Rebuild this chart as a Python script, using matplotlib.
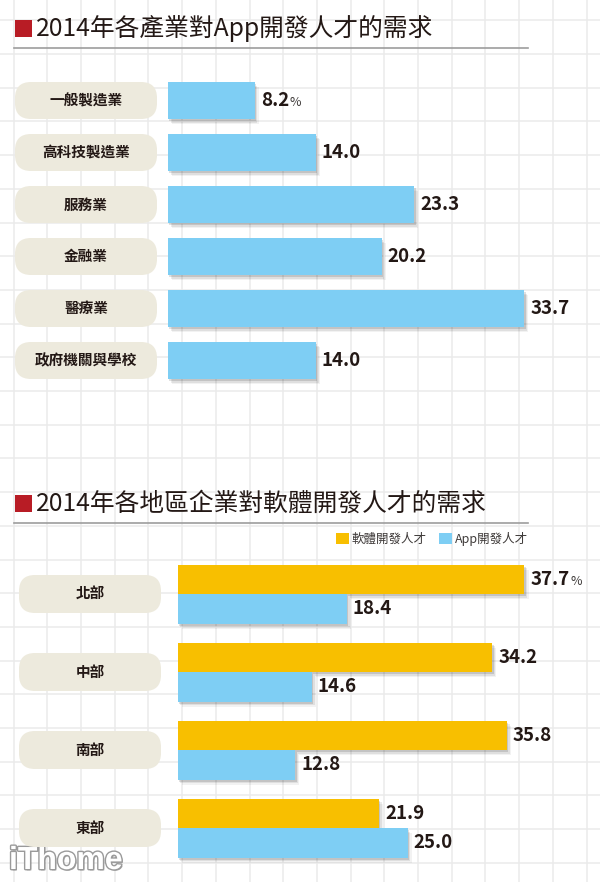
import numpy as np
import matplotlib
matplotlib.use('Agg')
import matplotlib.pyplot as plt
import matplotlib.patheffects as pe
import matplotlib.transforms as mtransforms
from matplotlib.patches import FancyBboxPatch, Rectangle, Patch

plt.rcParams['font.family'] = ['Noto Sans CJK TC', 'DejaVu Sans']

# data
industries = ['一般製造業', '高科技製造業', '服務業', '金融業', '醫療業', '政府機關與學校']
industry_app = [8.2, 14.0, 23.3, 20.2, 33.7, 14.0]

regions = ['北部', '中部', '南部', '東部']
region_software = [37.7, 34.2, 35.8, 21.9]
region_app = [18.4, 14.6, 12.8, 25.0]
series_names = ['軟體開發人才', 'App開發人才']

title_top = '2014年各產業對App開發人才的需求'
title_bottom = '2014年各地區企業對軟體開發人才的需求'

W, H = 600, 882
BLUE = '#7ecef4'
ORANGE = '#f8bf00'
PILL = '#edeadd'
INK = '#231815'
RED = '#b81c25'

shadow = [pe.SimplePatchShadow(offset=(1.0, -1.6), shadow_rgbFace='black', alpha=0.12),
          pe.SimplePatchShadow(offset=(2.0, -2.6), shadow_rgbFace='black', alpha=0.08),
          pe.SimplePatchShadow(offset=(3.0, -3.8), shadow_rgbFace='black', alpha=0.05),
          pe.Normal()]

fig = plt.figure(figsize=(W / 100, H / 100), dpi=100)
fig.patch.set_facecolor('white')

# background layer in pixel units: grid paper, titles, watermark
bg = fig.add_axes([0, 0, 1, 1])
bg.set_xlim(0, W)
bg.set_ylim(H, 0)
bg.axis('off')
for gx in np.arange(13.6, W, 33.7):
    bg.axvline(gx, color='#ebebeb', lw=1.1, zorder=0)
for gy in np.arange(20.3, H, 33.7):
    bg.axhline(gy, color='#ebebeb', lw=1.1, zorder=0)


def section_title(yc, text):
    bg.add_patch(Rectangle((15, yc - 8.5), 17, 17, color=RED, lw=0))
    bg.text(36, yc, text, fontsize=17.8, color=INK, ha='left', va='center')
    bg.plot([14, 528], [yc + 19, yc + 19], color='#9d9d9d', lw=1.2)


def chart_axes(top_px, bottom_px, first_px, step_px, zero_px, px_per_unit):
    ax = fig.add_axes([0, 1 - bottom_px / H, 1, (bottom_px - top_px) / H])
    ax.set_xlim(-zero_px / px_per_unit, (W - zero_px) / px_per_unit)
    ax.set_ylim((bottom_px - first_px) / step_px, (top_px - first_px) / step_px)
    ax.axis('off')
    ax.patch.set_alpha(0)
    return ax


def pills(ax, names, left, right, h_px, step_px):
    trans = mtransforms.blended_transform_factory(bg.transData, ax.transData)
    h = h_px / step_px
    for i, name in enumerate(names):
        box = FancyBboxPatch((left, i - h / 2), right - left, h,
                             boxstyle='round,pad=0,rounding_size=16',
                             mutation_aspect=1 / step_px,
                             transform=trans, fc=PILL, ec='none')
        ax.add_patch(box)
        ax.text((left + right) / 2, i, name, transform=trans, ha='center', va='center',
                fontsize=10.5, weight='bold', color=INK)


def value_labels(ax, values, ys, first_pct):
    for k, (v, y) in enumerate(zip(values, ys)):
        lab = ax.annotate(f'{v:.1f}', xy=(v, y), xytext=(4.3, 0), textcoords='offset points',
                          ha='left', va='center', fontsize=13.5, weight='bold', color=INK)
        if first_pct and k == 0:
            ax.annotate('%', xy=(1, 0), xycoords=lab, xytext=(0.5, 0.8),
                        textcoords='offset points', ha='left', va='bottom',
                        fontsize=9, color='#3e3a39')


# top chart
section_title(28.5, title_top)
ax1 = chart_axes(60, 400, 100.5, 52, 168, 10.57)
pills(ax1, industries, 15, 157, 37, 52)
y1 = np.arange(len(industries))
ax1.barh(y1, industry_app, height=37 / 52, color=BLUE, lw=0, path_effects=shadow)
value_labels(ax1, industry_app, y1, True)

# bottom chart
section_title(503.5, title_bottom)
ax2 = chart_axes(535, 882, 594, 78, 177.5, 9.2)
pills(ax2, regions, 19, 161, 38, 78)
y2 = np.arange(len(regions))
bh = 29.5 / 78
ax2.barh(y2 - bh / 2, region_software, height=bh, color=ORANGE, lw=0, path_effects=shadow)
ax2.barh(y2 + bh / 2, region_app, height=bh, color=BLUE, lw=0, path_effects=shadow)
value_labels(ax2, region_software, y2 - bh / 2, True)
value_labels(ax2, region_app, y2 + bh / 2, False)

ax2.legend(handles=[Patch(fc=ORANGE, ec='none'), Patch(fc=BLUE, ec='none')], labels=series_names,
           loc='center left', bbox_to_anchor=(336 / W, 1 - 539 / H), bbox_transform=fig.transFigure,
           ncol=2, frameon=False, fontsize=9, labelcolor='#3e3a39',
           handlelength=1.0, handleheight=1.0, handletextpad=0.25, columnspacing=1.0,
           borderpad=0, borderaxespad=0)

# watermark
bg.text(9, 869, 'iThome', fontsize=23, weight='bold', family='Liberation Sans', color='white',
        ha='left', va='baseline', zorder=10,
        path_effects=[pe.SimplePatchShadow(offset=(1, -1), shadow_rgbFace='#444', alpha=0.5),
                      pe.Stroke(linewidth=2.0, foreground='#9a9a9a'), pe.Normal()])

fig.savefig('out.png', dpi=100)
